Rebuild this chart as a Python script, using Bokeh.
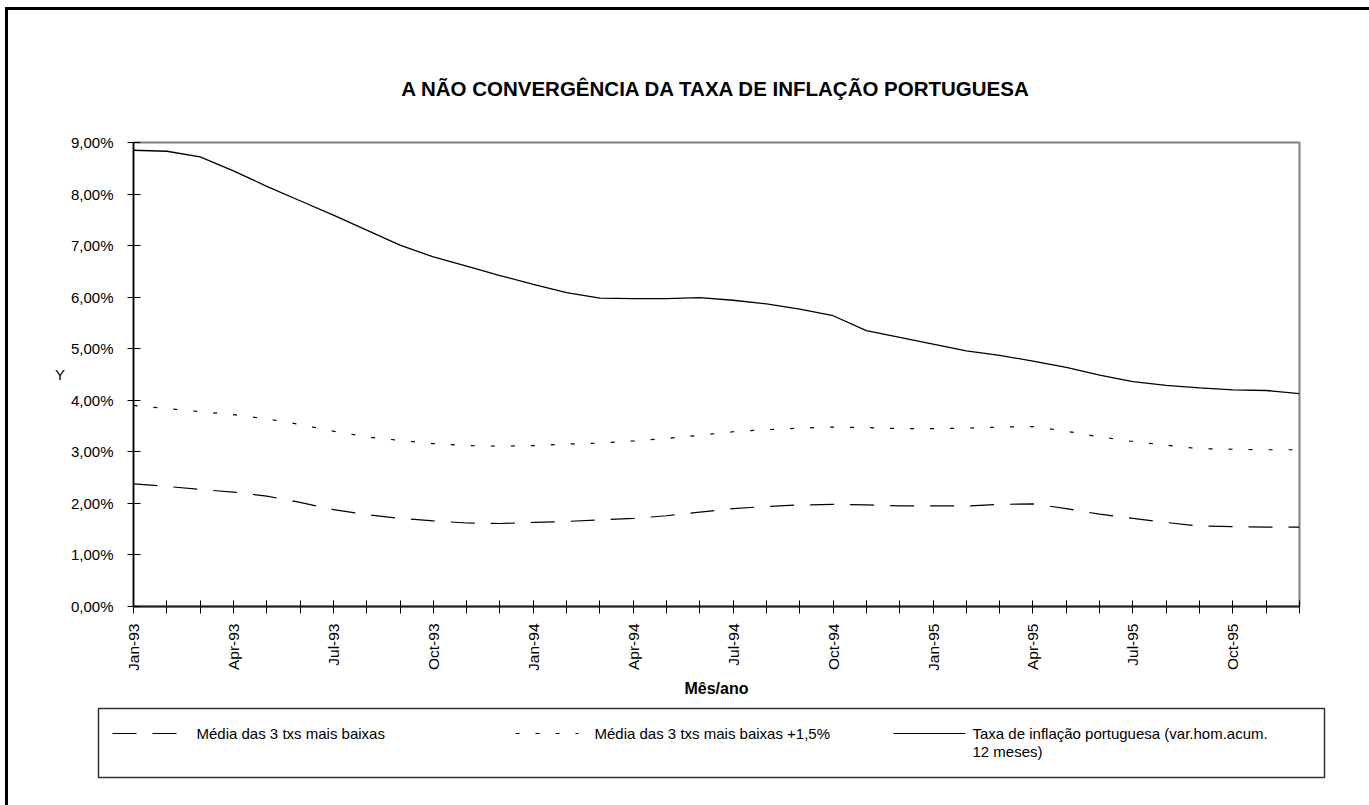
import math

from bokeh.core.properties import value
from bokeh.embed import file_html
from bokeh.layouts import column
from bokeh.models import FixedTicker, Range1d
from bokeh.plotting import figure
from bokeh.resources import INLINE

# Monthly observations, Jan-93 .. Dec-95 (values in %)
months = [
    "Jan-93", "Feb-93", "Mar-93", "Apr-93", "May-93", "Jun-93",
    "Jul-93", "Aug-93", "Sep-93", "Oct-93", "Nov-93", "Dec-93",
    "Jan-94", "Feb-94", "Mar-94", "Apr-94", "May-94", "Jun-94",
    "Jul-94", "Aug-94", "Sep-94", "Oct-94", "Nov-94", "Dec-94",
    "Jan-95", "Feb-95", "Mar-95", "Apr-95", "May-95", "Jun-95",
    "Jul-95", "Aug-95", "Sep-95", "Oct-95", "Nov-95", "Dec-95",
]

media_3_baixas = [
    2.38, 2.33, 2.27, 2.22, 2.14, 2.02, 1.88, 1.78, 1.71, 1.66, 1.62, 1.61,
    1.63, 1.65, 1.68, 1.71, 1.76, 1.83, 1.90, 1.94, 1.97, 1.98, 1.97, 1.95,
    1.95, 1.95, 1.98, 1.99, 1.90, 1.79, 1.71, 1.63, 1.56, 1.55, 1.54, 1.54,
]

media_3_baixas_mais_15 = [
    3.90, 3.84, 3.78, 3.72, 3.64, 3.53, 3.40, 3.29, 3.22, 3.16, 3.12, 3.11,
    3.12, 3.15, 3.17, 3.21, 3.26, 3.32, 3.39, 3.43, 3.46, 3.48, 3.47, 3.45,
    3.45, 3.46, 3.48, 3.49, 3.40, 3.29, 3.20, 3.13, 3.06, 3.05, 3.04, 3.04,
]

inflacao_pt = [
    8.85, 8.83, 8.72, 8.45, 8.15, 7.87, 7.59, 7.30, 7.01, 6.78, 6.60, 6.42,
    6.25, 6.09, 5.98, 5.97, 5.97, 5.99, 5.94, 5.87, 5.77, 5.64, 5.35, 5.22,
    5.09, 4.96, 4.87, 4.76, 4.64, 4.49, 4.36, 4.29, 4.24, 4.20, 4.19, 4.13,
]

y_ticks = [0, 1, 2, 3, 4, 5, 6, 7, 8, 9]
y_tick_labels = ["0,00%", "1,00%", "2,00%", "3,00%", "4,00%",
                 "5,00%", "6,00%", "7,00%", "8,00%", "9,00%"]

legend_labels = [
    "Média das 3 txs mais baixas",
    "Média das 3 txs mais baixas +1,5%",
    "Taxa de inflação portuguesa (var.hom.acum.",
    "12 meses)",
]

FONT = "Liberation Sans"
W = 1369
H_CHART, H_LEGEND = 700, 105
FL, FT, FR, FB = 133, 142, 1299, 606  # plot frame edges on the canvas

DASHED = "24 16"
DOTTED = "4 16"

x = list(range(len(months)))

# ---------------------------------------------------------------- chart
p = figure(
    width=W, height=H_CHART,
    x_range=Range1d(0, len(months) - 1),
    y_range=Range1d(0, 9),
    output_backend="svg", toolbar_location=None,
    min_border_left=FL, min_border_right=W - FR,
    min_border_top=FT, min_border_bottom=H_CHART - FB,
    background_fill_color=None, border_fill_color=None,
)

p.title.text = "A NÃO CONVERGÊNCIA DA TAXA DE INFLAÇÃO PORTUGUESA"
p.title.align = "center"
p.title.text_font = FONT
p.title.text_font_size = "20.5px"
p.title.text_font_style = "bold"
p.title.text_color = "black"
p.title.standoff = 86

p.xgrid.visible = False
p.ygrid.visible = False
p.outline_line_color = "#808080"
p.outline_line_width = 2

# x axis: a tick every month, a label every quarter
xa = p.xaxis[0]
xa.ticker = FixedTicker(ticks=x, minor_ticks=[])
xa.major_label_overrides = {i: (m if i % 3 == 0 else "") for i, m in zip(x, months)}
xa.major_label_orientation = math.pi / 2
xa.major_label_text_font = FONT
xa.major_label_text_font_size = "15.5px"
xa.major_label_text_color = "black"
xa.major_label_standoff = 10
xa.major_tick_in = 6
xa.major_tick_out = 7
xa.major_tick_line_color = "black"
xa.axis_line_color = "#222222"
xa.axis_line_width = 2
xa.axis_label = "Mês/ano"
xa.axis_label_text_font = FONT
xa.axis_label_text_font_size = "16px"
xa.axis_label_text_font_style = "bold"
xa.axis_label_text_color = "black"
xa.axis_label_standoff = 6

# y axis
ya = p.yaxis[0]
ya.ticker = FixedTicker(ticks=y_ticks, minor_ticks=[])
ya.major_label_overrides = {t: s for t, s in zip(y_ticks, y_tick_labels)}
ya.major_label_text_font = FONT
ya.major_label_text_font_size = "15px"
ya.major_label_text_color = "black"
ya.major_label_standoff = 14
ya.major_tick_in = 7
ya.major_tick_out = 6
ya.major_tick_line_color = "black"
ya.axis_line_color = "black"
ya.axis_line_width = 1.5
ya.axis_label = "Y"
ya.axis_label_orientation = "horizontal"
ya.axis_label_text_font = FONT
ya.axis_label_text_font_size = "15px"
ya.axis_label_text_font_style = "normal"
ya.axis_label_text_color = "black"
ya.axis_label_standoff = 3

p.line(x, media_3_baixas, line_color="black", line_width=1.2, line_dash=DASHED)
p.line(x, media_3_baixas_mais_15, line_color="black", line_width=1.2, line_dash=DOTTED)
p.line(x, inflacao_pt, line_color="black", line_width=1.3)

# ---------------------------------------------------------------- legend strip
# pixel coordinates: x from the left edge, y downwards from the strip's top
lg = figure(
    width=W, height=H_LEGEND, title=None,
    x_range=Range1d(0, W), y_range=Range1d(H_LEGEND, 0),
    x_axis_location=None, y_axis_location=None,
    output_backend="svg", toolbar_location=None,
    min_border=0, outline_line_color=None,
    background_fill_color=None, border_fill_color=None,
)
lg.grid.visible = False

# keep the strip's frame independent of the chart's frame
for fig in (p, lg):
    if "frame_align" in fig.properties():
        fig.frame_align = False

LY = 33
lg.quad(left=[98], right=[1324], top=[8], bottom=[77],
        fill_color=None, line_color="#333333", line_width=1.5)

lg.line([112, 178], [LY, LY], line_color="black", line_width=1.2, line_dash=DASHED)
lg.line([515, 578], [LY, LY], line_color="black", line_width=1.2, line_dash=DOTTED)
lg.line([893, 965], [LY, LY], line_color="black", line_width=1.2)

lg.text(x=[196, 594, 972, 972], y=[LY, LY, LY, LY + 18], text=legend_labels,
        text_font=value(FONT), text_font_size="15px", text_color="black",
        text_baseline="middle", text_align="left")

# chart border (left and top edges) painted behind the transparent canvases
page = column(
    p, lg, spacing=0,
    styles={
        "background-color": "white",
        "background-image": "linear-gradient(black, black), linear-gradient(black, black)",
        "background-size": "3px 800px, 1366px 3px",
        "background-position": "5px 7px, 5px 7px",
        "background-repeat": "no-repeat",
    },
)

open("out.html", "w").write(file_html(page, INLINE))
